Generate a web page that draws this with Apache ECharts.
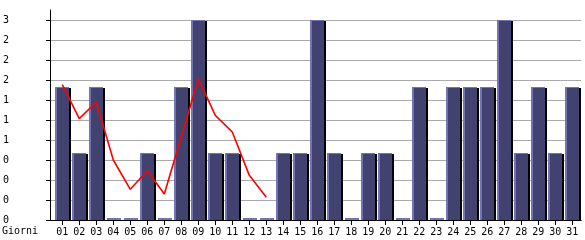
<!DOCTYPE html>
<html><head><meta charset="utf-8">
<script src="https://cdn.jsdelivr.net/npm/echarts@6/dist/echarts.min.js"></script>
<style>html,body{margin:0;padding:0;background:#fff}#c{width:585px;height:240px}</style>
</head><body><div id="c"></div>
<script>
var days = ['01','02','03','04','05','06','07','08','09','10','11','12','13','14','15','16','17','18','19','20','21','22','23','24','25','26','27','28','29','30','31'];
var visits = [2,1,2,0,0,1,0,2,3,1,1,0,0,1,1,3,1,0,1,1,0,2,0,2,2,2,3,1,2,1,2];
var trend = [2.03,1.52,1.77,0.90,0.46,0.74,0.39,1.25,2.12,1.57,1.32,0.67,0.34,null,null,null,null,null,null,null,null,null,null,null,null,null,null,null,null,null,null];
var xName = 'Giorni';

var FONT = 'DejaVu Sans Mono';
var hidden = {show:false};
var chart = echarts.init(document.getElementById('c'), null, {renderer:'canvas'});
chart.setOption({
  animation:false,
  backgroundColor:'#fff',
  grid:[
    {left:50, top:10, width:531, height:210},
    {left:50, top:20, width:531, height:200},
    {left:53.8, top:20, width:527, height:200}
  ],
  xAxis:[
    {gridIndex:0, type:'value', position:'top', min:0, max:1,
      axisLine:{show:true, lineStyle:{color:'#000', width:1}}, axisTick:hidden, axisLabel:hidden, splitLine:hidden},
    {gridIndex:0, type:'value', position:'bottom', min:0, max:1,
      axisLine:{show:true, lineStyle:{color:'#000', width:1}}, axisTick:hidden, axisLabel:hidden, splitLine:hidden},
    {gridIndex:1, type:'value', min:0, max:1, show:false},
    {gridIndex:2, type:'category', data:days, boundaryGap:true,
      axisLine:hidden,
      axisTick:{show:true, alignWithLabel:true, length:5, lineStyle:{color:'#000'}},
      axisLabel:{show:true, interval:0, margin:7, color:'#000', fontFamily:FONT, fontSize:10},
      splitLine:hidden}
  ],
  yAxis:[
    {gridIndex:0, type:'value', min:0, max:1,
      axisLine:{show:true, lineStyle:{color:'#000', width:1}}, axisTick:hidden, axisLabel:hidden, splitLine:hidden},
    {gridIndex:1, type:'value', min:0, max:3, interval:0.3,
      axisLine:hidden,
      axisTick:{show:true, length:5, lineStyle:{color:'#000'}},
      axisLabel:{show:true, align:'left', margin:48, color:'#000', fontFamily:FONT, fontSize:10,
        formatter:function(v){return String(Math.floor(v+1e-9));}},
      splitLine:{show:true, lineStyle:{color:'#aaaaaa', width:1}}},
    {gridIndex:2, type:'value', min:0, max:3, interval:0.3, show:false, splitLine:hidden}
  ],
  graphic:[
    {type:'text', left:2, top:226, style:{text:xName, fontFamily:FONT, fontSize:10, fill:'#000'}}
  ],
  series:[
    {type:'custom', xAxisIndex:3, yAxisIndex:2, z:2,
      data: visits.map(function(v,i){return [i,v];}),
      renderItem:function(params, api){
        var idx = api.value(0), v = api.value(1);
        var top = api.coord([idx, v]);
        var base = api.coord([idx, 0]);
        var c = top[0];
        var x0 = Math.round(c - 7.3);
        var yb = Math.round(base[1]);
        var yt = Math.round(top[1]);
        var h = yb - yt;
        var light = '#7474b4', body = '#424270';
        if (h < 2) {
          return {type:'rect', shape:{x:x0+1, y:yb-2, width:14, height:2}, style:{fill:light}};
        }
        return {type:'group', children:[
          {type:'rect', shape:{x:x0+14, y:yt+1, width:2, height:h-1}, style:{fill:'#000'}},
          {type:'rect', shape:{x:x0, y:yt, width:14, height:h}, style:{fill:light}},
          {type:'rect', shape:{x:x0+2, y:yt+1, width:12, height:h-1}, style:{fill:body}}
        ]};
      }
    },
    {type:'line', xAxisIndex:3, yAxisIndex:2, z:5, data:trend, showSymbol:false, symbol:'none',
      connectNulls:false, lineStyle:{color:'#ff0000', width:1.6}}
  ]
});
</script></body></html>
